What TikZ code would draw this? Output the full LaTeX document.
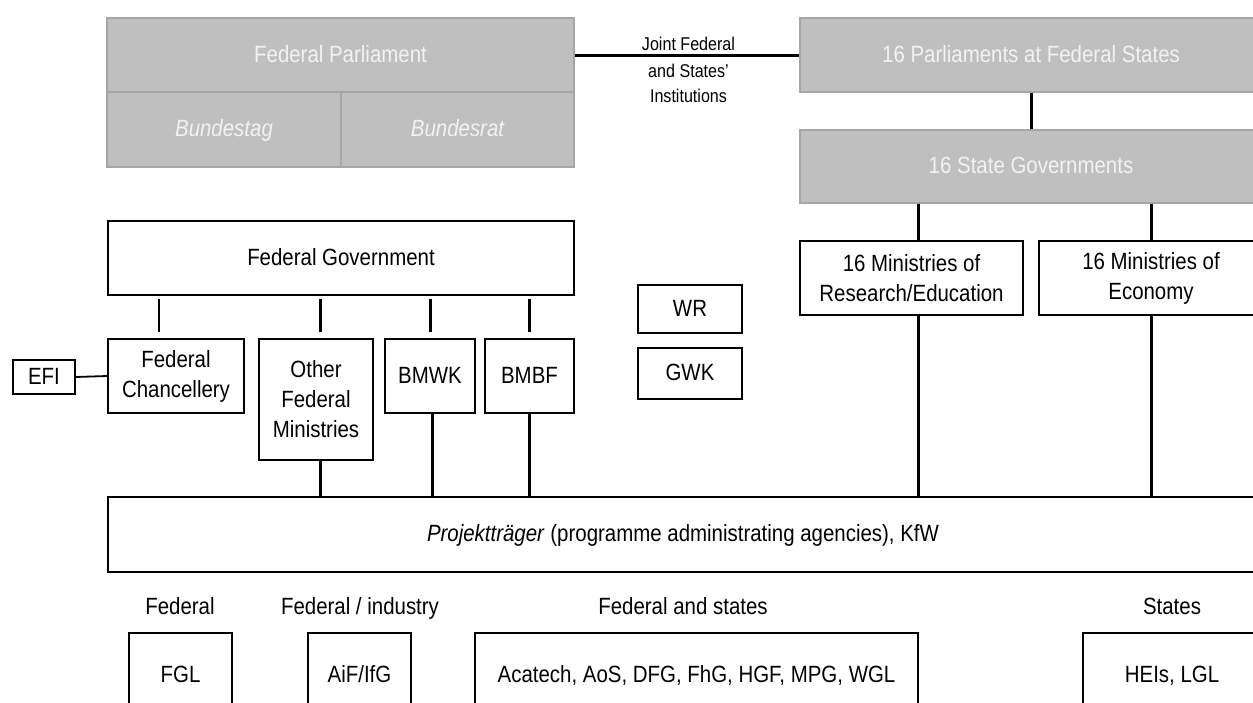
\documentclass[tikz,border=0pt]{standalone}
\usepackage{fontspec}
\setmainfont[FakeStretch=0.87]{Liberation Sans}
\definecolor{parlgray}{HTML}{BFBFBF}
\definecolor{parledge}{HTML}{A6A6A6}
\definecolor{parltext}{HTML}{F2F2F2}
\tikzset{
  box/.style={draw=black, line width=0.6pt, fill=white, inner sep=0pt, align=center},
  graybox/.style={draw=parledge, line width=0.6pt, fill=parlgray, text=parltext, inner sep=0pt, align=center},
  oneline/.style={text height=0.72em, text depth=0pt},
  link/.style={line width=1.5pt},
  thinlink/.style={line width=0.75pt},
  efilink/.style={line width=0.9pt},
  gapped/.style={shorten <=1.5pt, shorten >=3pt},
  grouplabel/.style={inner sep=0pt, oneline},
  jointlabel/.style={inner sep=0pt, align=center, font=\fontsize{9.25}{12.5}\selectfont}
}
\begin{document}
\begin{tikzpicture}[x=0.5pt, y=-0.5pt, font=\fontsize{11.75}{15}\selectfont]
\useasboundingbox (0,0) rectangle (1253,702);
% parliaments
\node[graybox, oneline, minimum width=233.5pt, minimum height=37pt] (fp) at (340.5,55) {Federal Parliament};
\node[graybox, oneline, minimum width=117pt, minimum height=37.5pt] (bt) at (224,129.5) {\itshape Bundestag};
\node[graybox, oneline, minimum width=116.5pt, minimum height=37.5pt] (br) at (457.5,129.5) {\itshape Bundesrat};
\node[graybox, oneline, minimum width=231pt, minimum height=37pt] (ps) at (1031,55) {16 Parliaments at Federal States};
\node[graybox, oneline, minimum width=231pt, minimum height=36.5pt] (sg) at (1031,166.5) {16 State Governments};
\draw[link] (fp.east) -- (ps.west);
\node[jointlabel] (jointa) at (688.5,43.5) {Joint Federal};
\node[jointlabel] (jointb) at (688.5,83.5) {and States'\\Institutions};
% state ministries
\node[box, minimum width=111.5pt, minimum height=37pt] (mre) at (911.5,278) {16 Ministries of\\Research/Education};
\node[box, minimum width=112pt, minimum height=37pt] (mec) at (1151,278) {16 Ministries of\\Economy};
% federal government
\node[box, oneline, minimum width=233pt, minimum height=37pt] (fg) at (341,258) {Federal Government};
\node[box, minimum width=68pt, minimum height=37pt] (fc) at (176,376) {Federal\\Chancellery};
\node[box, oneline, minimum width=31pt, minimum height=17pt] (efi) at (44,377) {EFI};
\node[box, minimum width=57pt, minimum height=60.5pt] (ofm) at (316,399.5) {Other\\Federal\\Ministries};
\node[box, oneline, minimum width=45pt, minimum height=37pt] (bmwk) at (430,376) {BMWK};
\node[box, oneline, minimum width=44.5pt, minimum height=37pt] (bmbf) at (529.5,376) {BMBF};
\node[box, oneline, minimum width=52pt, minimum height=24pt] (wr) at (690,309) {WR};
\node[box, oneline, minimum width=52pt, minimum height=25.5pt] (gwk) at (690,373.5) {GWK};
% Projekttraeger
\node[box, oneline, minimum width=575pt, minimum height=37.5pt] (pt) at (683,534.5) {\textit{Projektträger} (programme administrating agencies), KfW};
% bottom
\node[grouplabel] (lfed) at (180,607) {Federal};
\node[grouplabel] (lind) at (360,607) {Federal / industry};
\node[grouplabel] (lfs) at (683,607) {Federal and states};
\node[grouplabel] (lst) at (1172,607) {States};
\node[box, oneline, minimum width=51.5pt, minimum height=42.5pt] (fgl) at (180.5,675.5) {FGL};
\node[box, oneline, minimum width=51.5pt, minimum height=42.5pt] (aif) at (359.5,675.5) {AiF/IfG};
\node[box, oneline, minimum width=221.5pt, minimum height=42.5pt] (aca) at (696.5,675.5) {Acatech, AoS, DFG, FhG, HGF, MPG, WGL};
\node[box, oneline, minimum width=89pt, minimum height=42.5pt] (hei) at (1172,675.5) {HEIs, LGL};
% connectors, states
\draw[link] (ps.south) -- (sg.north);
\coordinate (mrex) at ([xshift=3.25pt]mre.north);
\draw[link] (mrex |- sg.south) -- (mrex);
\draw[link] (mrex |- mre.south) -- (mrex |- pt.north);
\draw[link] (mec.north |- sg.south) -- (mec.north);
\draw[link] (mec.south) -- (mec.south |- pt.north);
% connectors, federal
\coordinate (fcx) at ([xshift=-8.5pt]fc.north);
\draw[thinlink, gapped] (fcx |- fg.south) -- (fcx);
\coordinate (ofmx) at ([xshift=2pt]ofm.north);
\draw[link, gapped] (ofmx |- fg.south) -- (ofmx);
\draw[link, gapped] (bmwk.north |- fg.south) -- (bmwk.north);
\draw[link, gapped] (bmbf.north |- fg.south) -- (bmbf.north);
\draw[link] (ofmx |- ofm.south) -- (ofmx |- pt.north);
\coordinate (bmwkx) at ([xshift=1pt]bmwk.south);
\draw[link] (bmwkx) -- (bmwkx |- pt.north);
\draw[link] (bmbf.south) -- (bmbf.south |- pt.north);
\draw[efilink] (efi.east) -- (fc.west);
\end{tikzpicture}
\end{document}
